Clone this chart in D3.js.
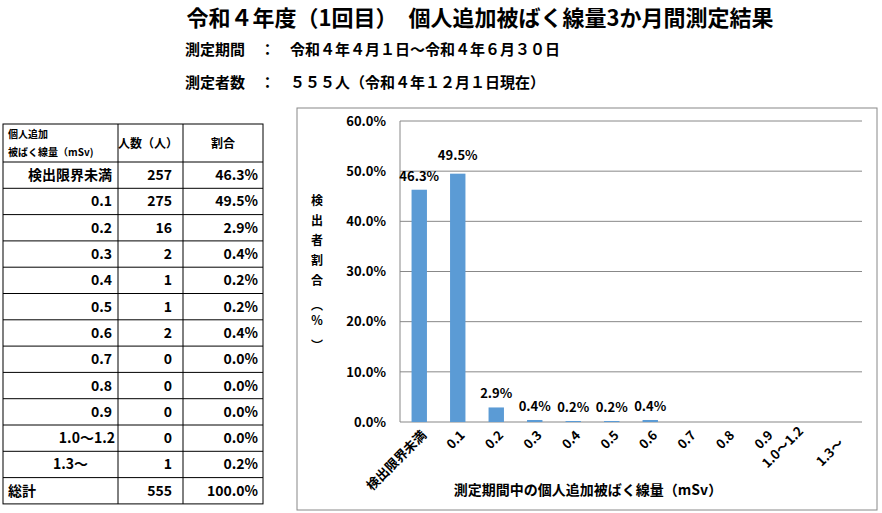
<!DOCTYPE html>
<html><head><meta charset="utf-8">
<script src="https://cdn.jsdelivr.net/npm/d3@7"></script>
<style>body{margin:0;background:#fff}text{font-family:"Noto Sans CJK JP","Noto Sans",sans-serif}</style>
</head><body>
<svg id="c" width="882" height="513"></svg>
<script>
const categories=["検出限界未満","0.1","0.2","0.3","0.4","0.5","0.6","0.7","0.8","0.9","1.0～1.2","1.3～"];
const counts=[257,275,16,2,1,1,2,0,0,0,0,1];
const percents=[46.3,49.5,2.9,0.4,0.2,0.2,0.4,0.0,0.0,0.0,0.0,0.2];
const chartValues=[46.3,49.5,2.9,0.4,0.2,0.2,0.4,0,0,0,0,0];
const chartLabels=["46.3%","49.5%","2.9%","0.4%","0.2%","0.2%","0.4%","","","","",""];
const yTicks=[0,10,20,30,40,50,60];
const total=["総計","555","100.0%"];

const svg=d3.select("#c");
svg.append("text").attr("x",480).attr("y",26).attr("text-anchor","middle").attr("font-size",22).attr("font-weight","bold")
 .text("令和４年度（1回目）　個人追加被ばく線量3か月間測定結果");
svg.append("text").attr("x",185).attr("y",55).attr("font-size",15).attr("font-weight","bold").text("測定期間　：　令和４年４月１日～令和４年６月３０日");
svg.append("text").attr("x",185).attr("y",88).attr("font-size",15).attr("font-weight","bold").text("測定者数　：　５５５人（令和４年１２月１日現在）");

const tx=[3,118,183,263], ty0=124, hh=38, rh=26.3;
const t=svg.append("g");
const nRows=categories.length+1;
t.append("rect").attr("x",tx[0]).attr("y",ty0).attr("width",tx[3]-tx[0]).attr("height",hh+nRows*rh).attr("fill","none").attr("stroke","#000");
tx.slice(1,3).forEach(x=>t.append("line").attr("x1",x).attr("x2",x).attr("y1",ty0).attr("y2",ty0+hh+nRows*rh).attr("stroke","#000"));
for(let i=0;i<nRows;i++) t.append("line").attr("x1",tx[0]).attr("x2",tx[3]).attr("y1",ty0+hh+i*rh).attr("y2",ty0+hh+i*rh).attr("stroke","#000");
t.append("text").attr("x",8).attr("y",138).attr("font-size",10).attr("font-weight","bold").text("個人追加");
t.append("text").attr("x",8).attr("y",156).attr("font-size",10).attr("font-weight","bold").text("被ばく線量（mSv)");
t.append("text").attr("x",148).attr("y",148).attr("text-anchor","middle").attr("font-size",12).attr("font-weight","bold").text("人数（人）");
t.append("text").attr("x",223).attr("y",148).attr("text-anchor","middle").attr("font-size",12).attr("font-weight","bold").text("割合");
const rows=categories.map((c,i)=>[c,String(counts[i]),percents[i].toFixed(1)+"%"]).concat([total]);
rows.forEach((r,i)=>{
 const y=ty0+hh+i*rh+rh/2+5;
 const last=i===rows.length-1;
 let xx=112, anc="end";
 if(last){xx=8;anc="start";} else if(i===10){xx=115;} else if(i===11){xx=88;}
 t.append("text").attr("x",xx).attr("y",y).attr("text-anchor",anc).attr("font-size",14).attr("font-weight","bold").text(r[0]);
 t.append("text").attr("x",172).attr("y",y).attr("text-anchor","end").attr("font-size",14).attr("font-weight","bold").text(r[1]);
 t.append("text").attr("x",258).attr("y",y).attr("text-anchor","end").attr("font-size",14).attr("font-weight","bold").text(r[2]);
});

svg.append("rect").attr("x",297).attr("y",108).attr("width",580).attr("height",402).attr("fill","none").attr("stroke","#888");
const L=400,R=862,T=121,B=422;
const x=d3.scaleBand().domain(categories).range([L,R]).paddingInner(0.6).paddingOuter(0.3);
const y=d3.scaleLinear().domain([0,60]).range([B,T]);
const g=svg.append("g");
yTicks.forEach(v=>g.append("line").attr("x1",L).attr("x2",R).attr("y1",y(v)).attr("y2",y(v)).attr("stroke","#888").attr("stroke-width",v?1:1.2));
g.append("line").attr("x1",L).attr("x2",L).attr("y1",T).attr("y2",B).attr("stroke","#888");
const ya=g.append("g").attr("transform",`translate(${L},0)`).call(d3.axisLeft(y).tickValues(yTicks).tickSize(0).tickPadding(14).tickFormat(d=>d.toFixed(1)+"%"));
ya.select(".domain").remove();
ya.selectAll("text").attr("font-size",13).attr("font-weight","bold").attr("font-family","Noto Sans,sans-serif");
g.selectAll(".bar").data(categories).join("rect").attr("x",d=>x(d)).attr("width",x.bandwidth())
 .attr("y",(d,i)=>y(chartValues[i])).attr("height",(d,i)=>B-y(chartValues[i])).attr("fill","#5b9bd5");
g.selectAll(".lab").data(categories).join("text").attr("x",d=>x(d)+x.bandwidth()/2)
 .attr("y",(d,i)=>y(chartValues[i])-(i===1?14:9)).attr("text-anchor","middle").attr("font-size",13).attr("font-weight","bold")
 .attr("font-family","Noto Sans,sans-serif").text((d,i)=>chartLabels[i]);
const off=[[0,0],[0,0],[0,0],[0,0],[0,0],[0,0],[0,0],[0,0],[0,0],[0,0],[-8,-4],[-6,8]];
g.selectAll(".xl").data(categories).join("text").attr("font-size",13).attr("font-weight","bold").attr("text-anchor","end")
 .attr("transform",(d,i)=>`translate(${x(d)+x.bandwidth()/2+8+off[i][0]},${436+off[i][1]}) rotate(-45)`).text(d=>d);
svg.append("text").attr("x",588).attr("y",495).attr("text-anchor","middle").attr("font-size",14).attr("font-weight","bold").text("測定期間中の個人追加被ばく線量（mSv）");
const yl="検出者割合（％）".split("");
yl.forEach((ch,i)=>svg.append("text").attr("x",317).attr("y",205+i*20).attr("text-anchor","middle").attr("font-size",12).attr("font-weight","bold")
 .attr("writing-mode", ch==="（"||ch==="）"?"tb":null).text(ch));
</script>
</body></html>
